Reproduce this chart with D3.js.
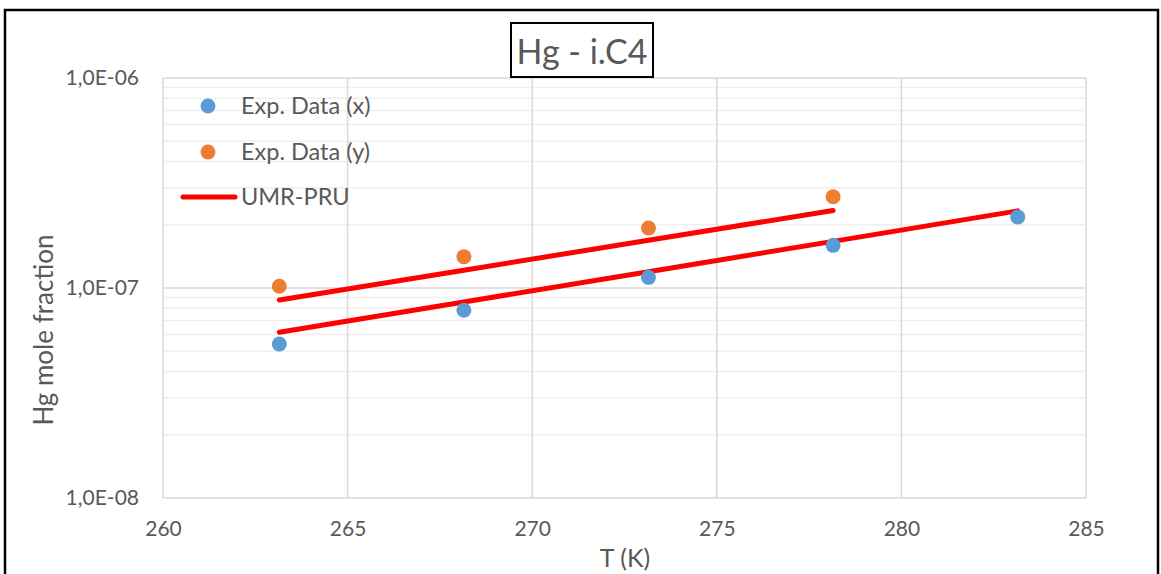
<!DOCTYPE html>
<html>
<head>
<meta charset="utf-8">
<script src="https://cdn.jsdelivr.net/npm/d3@7.9.0/dist/d3.min.js"></script>
<style>
  body { margin: 0; background: #fff; }
  svg { display: block; font-family: Lato, "Open Sans", sans-serif; }
</style>
</head>
<body>
<div id="chart"></div>
<script>
// values
const tempX = [263.15, 268.15, 273.15, 278.15, 283.15];
const expX = [5.41e-8, 7.83e-8, 1.124e-7, 1.596e-7, 2.18e-7];
const umrX = [6.15e-8, 8.58e-8, 1.196e-7, 1.667e-7, 2.33e-7];

const tempY = [263.15, 268.15, 273.15, 278.15];
const expY = [1.02e-7, 1.41e-7, 1.93e-7, 2.72e-7];
const umrY = [8.77e-8, 1.216e-7, 1.687e-7, 2.34e-7];

const xTicks = [260, 265, 270, 275, 280, 285];
const yTicks = [1e-8, 1e-7, 1e-6];
const yTickLabels = ['1,0E-08', '1,0E-07', '1,0E-06'];

const legendNames = ['Exp. Data (x)', 'Exp. Data (y)', 'UMR-PRU'];

const width = 1161;
const height = 574;
const plot = { left: 163, right: 1086, top: 78, bottom: 498 };

const blue = '#5b9bd5';
const orange = '#ed7d31';
const textColor = '#595959';

const svg = d3
  .select('#chart')
  .append('svg')
  .attr('width', width)
  .attr('height', height);

svg.append('rect').attr('width', width).attr('height', height).attr('fill', '#fff');

// outer frame
svg
  .append('rect')
  .attr('x', 5)
  .attr('y', 10)
  .attr('width', 1153)
  .attr('height', 600)
  .attr('fill', 'none')
  .attr('stroke', '#000')
  .attr('stroke-width', 2.5);

const xScale = d3.scaleLinear().domain([260, 285]).range([plot.left, plot.right]);
const yScale = d3.scaleLog().domain([1e-8, 1e-6]).range([plot.bottom, plot.top]);

// minor gridlines (2..9 within each decade)
const minor = [];
for (const d of [1e-8, 1e-7]) {
  for (let k = 2; k <= 9; k++) minor.push(d * k);
}

svg
  .append('g')
  .selectAll('line')
  .data(minor)
  .join('line')
  .attr('x1', plot.left)
  .attr('x2', plot.right)
  .attr('y1', (d) => yScale(d))
  .attr('y2', (d) => yScale(d))
  .attr('stroke', '#efefef')
  .attr('stroke-width', 1.5);

// major gridlines
svg
  .append('g')
  .selectAll('line')
  .data(yTicks)
  .join('line')
  .attr('x1', plot.left)
  .attr('x2', plot.right)
  .attr('y1', (d) => yScale(d))
  .attr('y2', (d) => yScale(d))
  .attr('stroke', '#d9d9d9')
  .attr('stroke-width', 1.5);

svg
  .append('g')
  .selectAll('line')
  .data(xTicks)
  .join('line')
  .attr('x1', (d) => xScale(d))
  .attr('x2', (d) => xScale(d))
  .attr('y1', plot.top)
  .attr('y2', plot.bottom)
  .attr('stroke', '#d9d9d9')
  .attr('stroke-width', 1.5);

// axes
const xAxis = d3.axisBottom(xScale).tickValues(xTicks).tickSize(0).tickPadding(23);
const yAxis = d3
  .axisLeft(yScale)
  .tickValues(yTicks)
  .tickFormat((d, i) => yTickLabels[i])
  .tickSize(0)
  .tickPadding(24);

const gx = svg.append('g').attr('transform', `translate(0, ${plot.bottom})`).call(xAxis);
const gy = svg.append('g').attr('transform', `translate(${plot.left}, 0)`).call(yAxis);

for (const g of [gx, gy]) {
  g.select('.domain').remove();
  g.selectAll('text')
    .attr('fill', textColor)
    .style('font-size', '21px')
    .style('font-family', 'Lato, sans-serif');
}

// model lines
const line = d3
  .line()
  .x((d) => xScale(d[0]))
  .y((d) => yScale(d[1]));

const lines = [d3.zip(tempY, umrY), d3.zip(tempX, umrX)];

svg
  .append('g')
  .selectAll('path')
  .data(lines)
  .join('path')
  .attr('d', line)
  .attr('fill', 'none')
  .attr('stroke', '#ff0000')
  .attr('stroke-width', 5)
  .attr('stroke-linecap', 'round');

// experimental points
svg
  .append('g')
  .selectAll('circle')
  .data(d3.zip(tempY, expY))
  .join('circle')
  .attr('cx', (d) => xScale(d[0]))
  .attr('cy', (d) => yScale(d[1]))
  .attr('r', 7.5)
  .attr('fill', orange);

svg
  .append('g')
  .selectAll('circle')
  .data(d3.zip(tempX, expX))
  .join('circle')
  .attr('cx', (d) => xScale(d[0]))
  .attr('cy', (d) => yScale(d[1]))
  .attr('r', 7.5)
  .attr('fill', blue);

// legend
const legend = svg.append('g');
const legendY = [106, 152, 197];

legend.append('circle').attr('cx', 208).attr('cy', legendY[0]).attr('r', 7.5).attr('fill', blue);
legend.append('circle').attr('cx', 208).attr('cy', legendY[1]).attr('r', 7.5).attr('fill', orange);
legend
  .append('line')
  .attr('x1', 183)
  .attr('x2', 235)
  .attr('y1', legendY[2])
  .attr('y2', legendY[2])
  .attr('stroke', '#ff0000')
  .attr('stroke-width', 5)
  .attr('stroke-linecap', 'round');

legend
  .selectAll('text')
  .data(legendNames)
  .join('text')
  .attr('x', 241)
  .attr('y', (d, i) => legendY[i])
  .attr('dy', '0.36em')
  .attr('fill', textColor)
  .style('font-size', '23.5px')
  .text((d) => d);

// title box
svg
  .append('rect')
  .attr('x', 511)
  .attr('y', 23)
  .attr('width', 142)
  .attr('height', 54)
  .attr('fill', '#fff')
  .attr('stroke', '#000')
  .attr('stroke-width', 2);

svg
  .append('text')
  .attr('x', 582)
  .attr('y', 64)
  .attr('text-anchor', 'middle')
  .attr('fill', textColor)
  .style('font-size', '34px')
  .text('Hg - i.C4');

// axis titles
svg
  .append('text')
  .attr('x', 625)
  .attr('y', 567)
  .attr('text-anchor', 'middle')
  .attr('fill', textColor)
  .style('font-size', '25px')
  .text('T (K)');

svg
  .append('text')
  .attr('transform', 'translate(53, 330) rotate(-90)')
  .attr('text-anchor', 'middle')
  .attr('fill', textColor)
  .style('font-size', '26px')
  .text('Hg mole fraction');
</script>
</body>
</html>
